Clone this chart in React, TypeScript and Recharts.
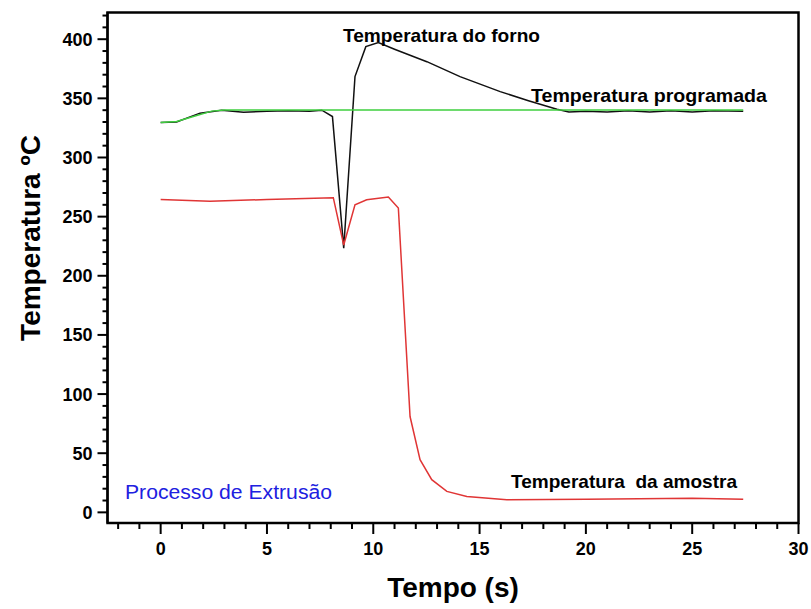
import { LineChart, Line, XAxis, YAxis } from "recharts";

// Temperatura do forno (black)
const fornoTime = [0, 0.75, 1.85, 2.87, 3.9, 5, 6, 7, 7.58, 8.08, 8.61, 9.14, 9.65, 10.24, 11, 12.52, 14.08, 15.97, 17.3, 18.64, 19.2, 20, 21, 22, 23, 24, 25, 26, 27.4];
const fornoTemp = [329.5, 330, 337.5, 340, 338.3, 339, 339.5, 339, 340, 334.6, 223.4, 368.4, 393.7, 397.1, 391.5, 381, 368.4, 355.7, 348, 340.8, 338.5, 339, 338.5, 339.5, 338.5, 339.5, 338.5, 339.5, 339];

// Temperatura programada (green)
const progTime = [0, 0.75, 1.5, 2.4, 3.0, 27.4];
const progTemp = [329.5, 330.4, 334.5, 339.2, 340.2, 340.2];

// Temperatura da amostra (red)
const amostraTime = [0, 2.32, 5, 8.12, 8.61, 9.14, 9.69, 10.71, 11.18, 11.73, 12.2, 12.75, 13.46, 14.4, 16.28, 20, 25, 27.4];
const amostraTemp = [264.5, 263, 264.5, 266, 226, 260, 264.2, 266.5, 257.2, 81, 44.5, 27.6, 17.7, 13.5, 10.7, 11, 12, 11];

const xMajor = [0, 5, 10, 15, 20, 25, 30];
const yMajor = [0, 50, 100, 150, 200, 250, 300, 350, 400];
const xTicks = Array.from({ length: 33 }, (_, i) => i - 2);
const yTicks = Array.from({ length: 43 }, (_, i) => i * 10);

const forno = fornoTime.map((t, i) => ({ t, v: fornoTemp[i] }));
const prog = progTime.map((t, i) => ({ t, v: progTemp[i] }));
const amostra = amostraTime.map((t, i) => ({ t, v: amostraTemp[i] }));

const FONT = "Arial, 'Liberation Sans', sans-serif";

const XTick = (props: any) => {
  const { x, y, payload } = props;
  const major = xMajor.includes(payload.value);
  return (
    <g>
      <line x1={x} y1={y} x2={x} y2={y + (major ? 11 : 6)} stroke="#000" strokeWidth={2} />
      {major && (
        <text x={x} y={y + 32} textAnchor="middle" fontFamily={FONT} fontWeight="bold" fontSize={18} fill="#000">
          {payload.value}
        </text>
      )}
    </g>
  );
};

const YTick = (props: any) => {
  const { x, y, payload } = props;
  const major = yMajor.includes(payload.value);
  return (
    <g>
      <line x1={x} y1={y} x2={x - (major ? 10 : 5)} y2={y} stroke="#000" strokeWidth={2} />
      {major && (
        <text x={x - 15} y={y + 6.5} textAnchor="end" fontFamily={FONT} fontWeight="bold" fontSize={18} fill="#000">
          {payload.value}
        </text>
      )}
    </g>
  );
};

export default function App() {
  return (
    <div style={{ position: "absolute", left: 0, top: 0, width: 811, height: 609, background: "#fff" }}>
      <LineChart width={811} height={609} margin={{ top: 12, right: 12.5, bottom: 0, left: 0 }}>
        <XAxis
          dataKey="t"
          type="number"
          domain={[-2.5, 30]}
          allowDataOverflow
          ticks={xTicks}
          interval={0}
          tick={<XTick />}
          tickLine={false}
          tickSize={0}
          tickMargin={0}
          height={86}
          axisLine={{ stroke: "#000", strokeWidth: 2 }}
        />
        <YAxis
          type="number"
          domain={[-9, 423]}
          allowDataOverflow
          ticks={yTicks}
          interval={0}
          tick={<YTick />}
          tickLine={false}
          tickSize={0}
          tickMargin={0}
          width={107.5}
          axisLine={{ stroke: "#000", strokeWidth: 2 }}
        />
        <Line data={forno} dataKey="v" stroke="#111" strokeWidth={1.5} dot={false} isAnimationActive={false} />
        <Line data={prog} dataKey="v" stroke="#3fcf3f" strokeWidth={1.5} dot={false} isAnimationActive={false} />
        <Line data={amostra} dataKey="v" stroke="#e03535" strokeWidth={1.5} dot={false} isAnimationActive={false} />
      </LineChart>
      <svg width={811} height={609} style={{ position: "absolute", left: 0, top: 0, pointerEvents: "none" }}>
        {/* plot frame */}
        <rect x={107.5} y={12.5} width={691} height={510.5} fill="none" stroke="#000" strokeWidth={2.5} />
        <g fontFamily={FONT} fill="#000">
          <text x={343} y={42} fontSize={19} fontWeight="bold" textLength={197} lengthAdjust="spacingAndGlyphs">
            Temperatura do forno
          </text>
          <text x={531} y={102} fontSize={19} fontWeight="bold" textLength={236} lengthAdjust="spacingAndGlyphs">
            Temperatura programada
          </text>
          <text x={511} y={488} fontSize={19} fontWeight="bold" textLength={226} lengthAdjust="spacingAndGlyphs" style={{ whiteSpace: "pre" }}>
            {"Temperatura  da amostra"}
          </text>
          <text x={125} y={499} fontSize={20} fill="#2020e0" textLength={207} lengthAdjust="spacingAndGlyphs">
            Processo de Extrusão
          </text>
          <text x={453} y={597} fontSize={28} fontWeight="bold" textAnchor="middle">
            Tempo (s)
          </text>
          <text x={40} y={238} fontSize={28} fontWeight="bold" textAnchor="middle" transform="rotate(-90 40 238)">
            Temperatura ºC
          </text>
        </g>
      </svg>
    </div>
  );
}
